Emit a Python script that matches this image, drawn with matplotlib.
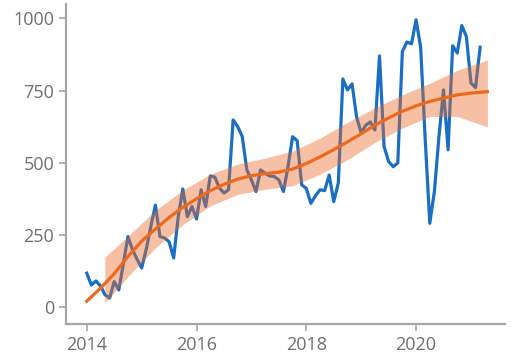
import numpy as np
import matplotlib.pyplot as plt

# monthly series, Jan 2014 .. Mar 2021
values = [117, 76, 90, 73, 42, 31, 88, 59, 150, 244, 198, 165, 135, 200, 278, 353,
          244, 239, 226, 170, 313, 409, 313, 348, 305, 406, 348, 454, 450, 412,
          395, 406, 648, 625, 590, 475, 440, 400, 475, 463, 454, 452, 440, 400,
          486, 590, 576, 423, 411, 359, 385, 406, 403, 457, 365, 430, 790, 752,
          773, 658, 603, 630, 641, 613, 870, 556, 504, 486, 499, 885, 918, 912,
          995, 900, 580, 290, 400, 590, 752, 545, 905, 880, 975, 937, 776, 760, 900]
months = 2014 + np.arange(len(values)) / 12

# smoothed trend
trend_x = [2014.0, 2014.25, 2014.5, 2014.75, 2015.0, 2015.25, 2015.5, 2015.75,
           2016.0, 2016.25, 2016.5, 2016.75, 2017.0, 2017.25, 2017.5, 2017.75,
           2018.0, 2018.25, 2018.5, 2018.75, 2019.0, 2019.25, 2019.5, 2019.75,
           2020.0, 2020.25, 2020.5, 2020.75, 2021.0, 2021.3]
trend_y = [20, 65, 115, 175, 228, 270, 310, 345, 375, 403, 425, 443, 455, 462,
           467, 478, 497, 520, 545, 572, 600, 630, 655, 678, 697, 712, 724, 735,
           741, 746]

# confidence band
band_x = [2014.33, 2014.75, 2015.25, 2015.75, 2016.25, 2016.75, 2017.25, 2017.75,
          2018.25, 2018.75, 2019.25, 2019.75, 2020.25, 2020.75, 2021.3]
band_lo = [14, 105, 205, 285, 350, 390, 408, 420, 460, 510, 570, 620, 660, 660, 624]
band_hi = [173, 245, 335, 405, 460, 495, 516, 540, 585, 640, 690, 735, 775, 820, 856]

plt.rcParams['font.family'] = ['Open Sans', 'DejaVu Sans']

fig = plt.figure(figsize=(5.19, 3.58), dpi=100)
ax = fig.add_axes([0.127, 0.095, 0.846, 0.894])

ax.plot(months, values, color='#1a6fc4', lw=2.3, zorder=2)
ax.fill_between(band_x, band_lo, band_hi, color='#ec6a26', alpha=0.42, lw=0, zorder=3)
ax.plot(trend_x, trend_y, color='#ec6a1e', lw=2.3, zorder=4)

ax.set_xlim(2013.62, 2021.62)
ax.set_ylim(-59, 1050)
ax.set_xticks([2014, 2016, 2018, 2020])
ax.set_yticks([0, 250, 500, 750, 1000])

for s in ['top', 'right']:
    ax.spines[s].set_visible(False)
for s in ['left', 'bottom']:
    ax.spines[s].set_color('#a6a6a6')
    ax.spines[s].set_linewidth(1.6)
ax.tick_params(colors='#a6a6a6', labelcolor='#707070', labelsize=13,
               length=5, width=1.2)

fig.savefig('out.png', dpi=100)
